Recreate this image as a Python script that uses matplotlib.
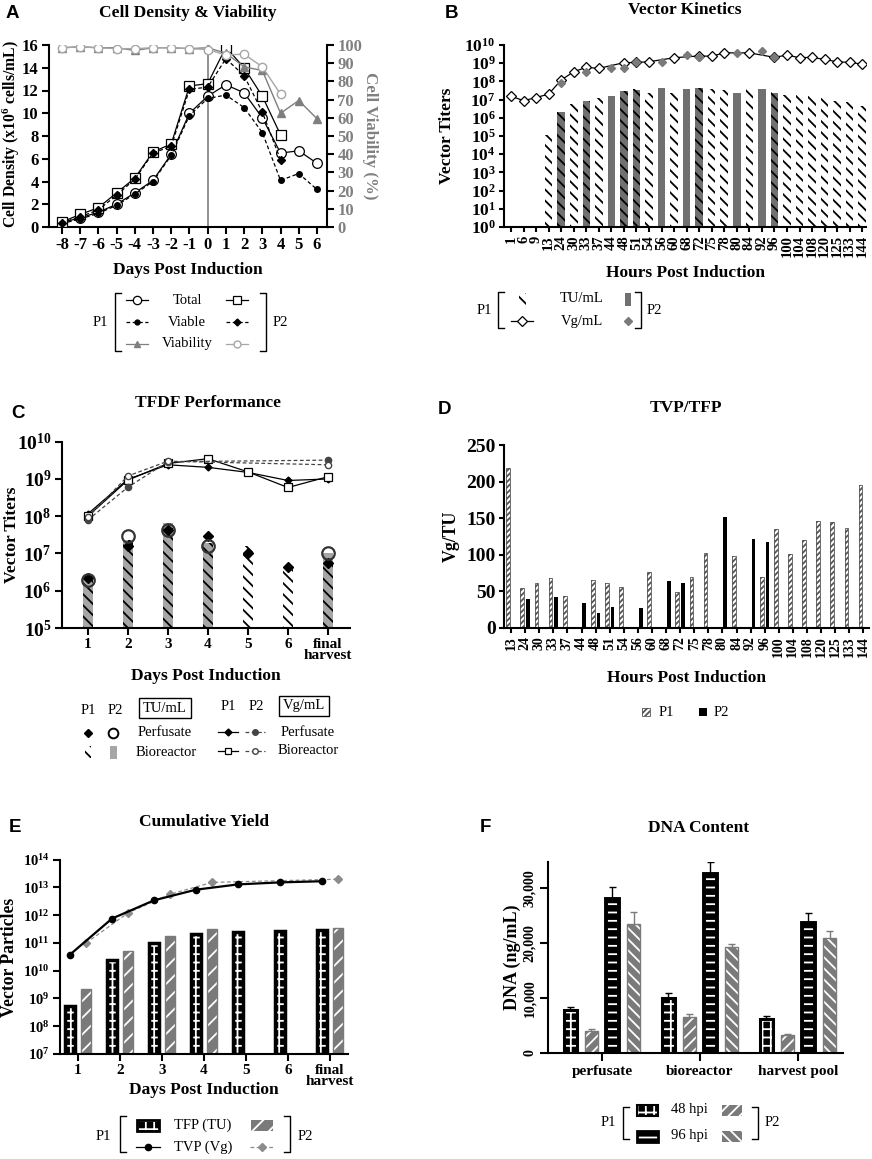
import numpy as np
import matplotlib
matplotlib.use("Agg")
import matplotlib.pyplot as plt
from matplotlib.patches import Rectangle
from matplotlib.ticker import FixedLocator, FuncFormatter, NullLocator

nan = np.nan

# ---- A: cell density & viability ----
days_a = list(range(-8, 7))
a_p1_total = [0.4, 0.8, 1.3, 2.0, 3.0, 4.1, 6.4, 10.0, 11.5, 12.5, 11.8, 9.6, 6.5, 6.7, 5.6]
a_p1_viable = [0.3, 0.7, 1.2, 1.9, 2.9, 4.0, 6.3, 9.8, 11.3, 11.6, 10.5, 8.3, 4.1, 4.7, 3.3]
a_p2_total = [0.45, 1.1, 1.7, 3.0, 4.3, 6.6, 7.3, 12.4, 12.6, 15.8, 14.0, 11.5, 8.1]
a_p2_viable = [0.35, 0.9, 1.5, 2.8, 4.2, 6.5, 7.1, 12.1, 12.3, 14.8, 13.3, 10.1, 5.9]
a_p1_viab = [98.5, 99, 98.5, 98.5, 97, 98.5, 98.5, 98, 98.5, 95.5, 88, 86, 62.5, 69.5, 59.5]
a_p2_viab = [98.5, 99, 98.5, 98, 98, 98.5, 98.5, 98, 97.5, 94.5, 95, 88, 73]

# ---- B: vector kinetics ----
hours_b = ["1", "6", "9", "13", "24", "30", "33", "37", "44", "48", "51", "54", "56", "60",
           "68", "72", "75", "78", "80", "84", "92", "96", "100", "104", "108", "120",
           "125", "133", "144"]
b_tu_p1 = [nan, nan, nan, 1.1e5, 2.1e6, 5.6e6, 8.7e6, 1.15e7, nan, 3.0e7, 3.6e7, 2.2e7, nan, 2.4e7,
           nan, 4.3e7, 3.6e7, 3.3e7, nan, 3.6e7, nan, 3.1e7, 1.9e7, 1.8e7, 1.6e7, 1.15e7,
           8.5e6, 7.5e6, 4.4e6]
b_tu_p2 = [nan, nan, nan, nan, 2.0e6, nan, 8.5e6, nan, 1.6e7, 2.9e7, 3.5e7, nan, 4.1e7, nan,
           4.0e7, 4.2e7, nan, nan, 2.4e7, nan, 3.8e7, 2.2e7, nan, nan, nan, nan, nan, nan, nan]
b_vg_p1 = [1.55e7, 8.7e6, 1.3e7, 2.0e7, 1.2e8, 3.4e8, 5.9e8, 5.2e8, nan, 1.07e9, 1.1e9, 1.2e9, nan,
           2.0e9, nan, 2.5e9, 2.4e9, 3.7e9, nan, 3.7e9, nan, 2.1e9, 2.8e9, 2.0e9, 2.1e9, 1.6e9,
           1.2e9, 1.1e9, 9.0e8]
b_vg_p2 = [nan, nan, nan, nan, 7.8e7, nan, 3.4e8, nan, 5.6e8, 5.2e8, 1.1e9, nan, 1.15e9, nan,
           2.8e9, 2.3e9, nan, nan, 3.8e9, nan, 4.9e9, 2.1e9, nan, nan, nan, nan, nan, nan, nan]

# ---- C: TFDF performance ----
days_c = ["1", "2", "3", "4", "5", "6", "final\nharvest"]
c_tu_bio_p1 = [2.0e6, 2.3e7, 4.8e7, 1.9e7, 1.6e7, 4.0e6, 6.7e6]
c_tu_bio_p2 = [2.7e6, 2.3e7, 6.5e7, 1.9e7, nan, nan, 1.0e7]
c_tu_perf_p1 = [2.2e6, 1.55e7, 4.3e7, 3.0e7, 1.0e7, 4.3e6, 5.7e6]
c_tu_perf_p2 = [2.0e6, 2.9e7, 4.3e7, 1.6e7, nan, nan, 1.0e7]
c_vg_perf_p1 = [1.15e8, 9.8e8, 2.4e9, 2.05e9, 1.5e9, 9.1e8, 1.0e9]
c_vg_bio_p1 = [1.0e8, 9.3e8, 2.6e9, 3.5e9, 1.55e9, 5.9e8, 1.15e9]
c_vg_perf_p2 = [7.9e7, 6.0e8, 2.9e9, nan, nan, nan, 3.2e9]
c_vg_bio_p2 = [9.3e7, 1.2e9, 3.0e9, nan, nan, nan, 2.4e9]

# ---- D: TVP/TFP ----
hours_d = hours_b[3:]
d_p1 = [219, 54.5, 62, 68, 43.6, nan, 66, 62, 56, nan, 77, nan, 49.5, 70, 102, nan, 99, nan,
        70, 135.5, 101, 120, 146, 144.5, 137, 196]
d_p2 = [nan, 39.5, nan, 42, nan, 34, 20.5, 29, nan, 28, nan, 64.5, 61.4, nan, nan, 151, nan,
        121, 118, nan, nan, nan, nan, nan, nan, nan]

# ---- E: cumulative yield ----
e_tfp_p1 = [5.5e8, 2.5e10, 1.0e11, 2.1e11, 2.5e11, 2.75e11, 2.8e11]
e_tfp_p2 = [2.2e9, 5.0e10, 1.8e11, 3.2e11, nan, nan, 3.4e11]
e_tvp_p1 = [3.8e10, 7.5e11, 3.4e12, 8.2e12, 1.27e13, 1.5e13, 1.65e13]
e_tvp_p2 = [9.8e10, 1.2e12, 5.6e12, 1.5e13, nan, nan, 1.95e13]

# ---- F: DNA content ----
sites_f = ["perfusate", "bioreactor", "harvest pool"]
f_p1_48 = [7880, 10000, 6180]
f_p2_48 = [3940, 6550, 3330]
f_p1_96 = [28060, 32670, 23760]
f_p2_96 = [23500, 19400, 20900]
f_err_p1_48 = [480, 900, 480]
f_err_p2_48 = [420, 550, 180]
f_err_p1_96 = [2120, 2100, 1700]
f_err_p2_96 = [2240, 480, 1340]

plt.rcParams.update({
    "font.family": ["Liberation Serif", "DejaVu Serif"],
    "font.weight": "bold",
    "axes.labelweight": "bold",
    "mathtext.fontset": "custom",
    "mathtext.rm": "Liberation Serif:bold",
    "mathtext.bf": "Liberation Serif:bold",
    "mathtext.default": "bf",
    "hatch.linewidth": 1.3,
})

W, H = 872, 1159
fig = plt.figure(figsize=(W / 100, H / 100), dpi=100)


def px_axes(l, t, r, b):
    return fig.add_axes([l / W, 1 - b / H, (r - l) / W, (b - t) / H])


def style(ax, size, length=5):
    for s in ["top", "right"]:
        ax.spines[s].set_visible(False)
    for s in ["left", "bottom"]:
        ax.spines[s].set_linewidth(1.5)
    ax.tick_params(direction="out", width=1.5, length=length, labelsize=size, pad=2.5)


def pow10(v, pos):
    return r"$\mathbf{10^{%d}}$" % round(np.log10(v))


def log_axis(ax, lo, hi, size):
    ax.set_yscale("log")
    ax.set_ylim(10.0 ** lo, 10.0 ** hi)
    ax.yaxis.set_major_locator(FixedLocator(10.0 ** np.arange(lo, hi + 1)))
    ax.yaxis.set_minor_locator(NullLocator())
    ax.yaxis.set_major_formatter(FuncFormatter(pow10))
    ax.tick_params(axis="y", labelsize=size)


def hbar(ax, x, h, w, fc, hc, hatch, ec, lw, bottom=0, z=2):
    x = np.asarray(x, float)
    h = np.asarray(h, float)
    m = ~np.isnan(h)
    ax.bar(x[m], h[m] - bottom, w, bottom=bottom, facecolor=fc, edgecolor=hc,
           hatch=hatch, linewidth=0, zorder=z)
    if ec is not None:
        ax.bar(x[m], h[m] - bottom, w, bottom=bottom, facecolor="none", edgecolor=ec,
               linewidth=lw, zorder=z + 0.1)


def pts(x, y):
    x = np.asarray(x, float)
    y = np.asarray(y, float)
    m = ~np.isnan(y)
    return x[m], y[m]


# ================= A =================
axA = px_axes(49, 45, 327, 227)
style(axA, 12)
axA.set_xlim(-8.71, 6.55)
axA.set_ylim(0, 16)
axA.set_xticks(days_a)
axA.set_xticklabels([str(d) for d in days_a])
axA.set_yticks(range(0, 17, 2))
axA.axvline(0, color="#7f7f7f", lw=1.2, zorder=1)
axA.plot(days_a, a_p1_total, "-o", color="black", mfc="white", ms=7, lw=0.9, mew=0.9, zorder=3)
axA.plot(days_a, a_p1_viable, "--o", color="black", ms=4, lw=0.9, dashes=(3, 2), zorder=3)
axA.plot(days_a[:13], a_p2_total, "-s", color="black", mfc="white", ms=7, lw=0.9, mew=0.9, zorder=3)
axA.plot(days_a[:13], a_p2_viable, "--D", color="black", ms=4, lw=0.9, dashes=(3, 2), zorder=3)
axA2 = axA.twinx()
axA2.set_ylim(0, 100)
axA2.set_yticks(range(0, 101, 10))
for s in ["top", "left", "bottom"]:
    axA2.spines[s].set_visible(False)
axA2.spines["right"].set_linewidth(1.5)
axA2.tick_params(direction="out", width=1.5, length=5, labelsize=12, pad=2.5,
                 labelcolor="#808080")
axA2.plot(days_a, a_p1_viab, "-^", color="#7f7f7f", ms=5.5, lw=1.0)
axA2.plot(days_a[:13], a_p2_viab, "-o", color="#a6a6a6", mfc="white", ms=6, lw=1.0)

# ================= B =================
axB = px_axes(504, 45, 866, 227)
style(axB, 10.5, length=3.5)
xb = np.arange(len(hours_b))
axB.set_xlim(-0.56, 28.3)
log_axis(axB, 0, 10, 12.5)
axB.set_xticks(xb)
axB.set_xticklabels(hours_b, rotation=90)
hbar(axB, xb, b_tu_p2, 0.6, "#707070", "#707070", None, None, 0, bottom=1)
hbar(axB, xb, b_tu_p1, 0.6, "none", "black", "\\\\\\", None, 0, bottom=1, z=2.5)
x1, y1 = pts(xb, b_vg_p1)
axB.plot(x1, y1, "-D", color="black", mfc="white", ms=5.5, lw=0.9, mew=0.9, zorder=4)
x2, y2 = pts(xb, b_vg_p2)
axB.plot(x2, y2, "D", color="#7a7a7a", ms=4.5, lw=0, zorder=5)

# ================= C =================
axC = px_axes(62, 441.7, 350, 628)
style(axC, 11)
xc = np.arange(len(days_c))
axC.set_xlim(-0.645, 6.55)
log_axis(axC, 5, 10, 14)
axC.set_xticks(xc)
axC.set_xticklabels(days_c, linespacing=0.8)
hbar(axC, xc, c_tu_bio_p2, 0.25, "#a6a6a6", "#a6a6a6", None, None, 0, bottom=1e5)
hbar(axC, xc, c_tu_bio_p1, 0.25, "none", "black", "\\\\\\", None, 0, bottom=1e5, z=2.5)
axC.plot(*pts(xc, c_tu_perf_p1), "D", color="black", ms=5, zorder=5)
axC.plot(*pts(xc, c_tu_perf_p2), "o", mfc="none", mec="#333333", ms=9, mew=1.6, zorder=5)
axC.plot(*pts(xc, c_vg_perf_p1), "-D", color="black", ms=3.5, lw=0.9, zorder=4)
axC.plot(*pts(xc, c_vg_bio_p1), "-s", color="black", mfc="white", ms=6, lw=0.9, mew=0.9, zorder=4)
axC.plot(*pts(xc, c_vg_perf_p2), "--o", color="#444444", ms=4.5, lw=0.9, dashes=(3, 2), zorder=4)
axC.plot(*pts(xc, c_vg_bio_p2), "--o", color="#444444", mfc="white", ms=4.5, lw=0.9,
         dashes=(3, 2), zorder=4)

# ================= D =================
axD = px_axes(504, 445, 869, 628)
style(axD, 14, length=3.5)
xd = np.arange(len(hours_d))
axD.set_xlim(-0.5, 25.4)
axD.set_ylim(0, 250)
axD.set_yticks(range(0, 251, 50))
axD.set_xticks(xd)
axD.set_xticklabels(hours_d, rotation=90, fontsize=10)
hbar(axD, xd - 0.2, d_p1, 0.27, "white", "#555555", "//////", "#555555", 0.6)
hbar(axD, xd + 0.2, d_p2, 0.27, "black", "black", None, None, 0)

# ================= E =================
axE = px_axes(60, 859.5, 348, 1054)
style(axE, 11)
xe = np.arange(len(days_c))
axE.set_xlim(-0.43, 6.43)
log_axis(axE, 7, 14, 10.5)
axE.set_xticks(xe)
axE.set_xticklabels(days_c, linespacing=0.8)
hbar(axE, xe - 0.19, e_tfp_p1, 0.23, "black", "white", "++", "black", 2.5, bottom=1e7)
hbar(axE, xe + 0.19, e_tfp_p2, 0.23, "#7a7a7a", "white", "//", "#7a7a7a", 1.0, bottom=1e7)
axE.plot(*pts(xe - 0.19, e_tvp_p1), "-o", color="black", ms=4.5, lw=1.6, zorder=5)
axE.plot(*pts(xe + 0.19, e_tvp_p2), "--D", color="#8c8c8c", ms=4, lw=0.9, dashes=(3, 2), zorder=4)

# ================= F =================
axF = px_axes(548, 862, 843, 1053)
style(axF, 11, length=6)
xf = np.arange(len(sites_f))
axF.set_xlim(-0.55, 2.46)
axF.set_ylim(0, 34800)
axF.set_xticks(xf)
axF.set_xticklabels(sites_f)
axF.set_yticks([0, 10000, 20000, 30000])
axF.set_yticklabels(["0", "10,000", "20,000", "30,000"], rotation=90, va="center", fontsize=10)
off = np.array([-1.5, -0.5, 0.5, 1.5]) * 0.215
groups = [
    (f_p1_48, f_err_p1_48, "black", "white", "++", "black", 2.2, "black"),
    (f_p2_48, f_err_p2_48, "#7a7a7a", "white", "///", "#7a7a7a", 1.0, "#7a7a7a"),
    (f_p1_96, f_err_p1_96, "black", "white", "--", "black", 2.8, "black"),
    (f_p2_96, f_err_p2_96, "#7a7a7a", "white", "\\\\\\", "#7a7a7a", 1.0, "#7a7a7a"),
]
for k, (vals, errs, fc, hc, ht, ec, lw, erc) in enumerate(groups):
    xx = xf + off[k]
    hbar(axF, xx, vals, 0.135, fc, hc, ht, ec, lw)
    top = np.array(vals) + np.array(errs)
    axF.vlines(xx, vals, top, color=erc, lw=1.0, zorder=1)
    axF.hlines(top, xx - 0.035, xx + 0.035, color=erc, lw=1.0, zorder=1)

# ================= overlay: titles, labels, legends =================
lay = fig.add_axes([0, 0, 1, 1], zorder=10)
lay.set_xlim(0, W)
lay.set_ylim(H, 0)
lay.axis("off")


def txt(x, y, s, size=11, weight="bold", **kw):
    kw.setdefault("ha", "center")
    kw.setdefault("va", "center")
    lay.text(x, y, s, fontsize=size, fontweight=weight, **kw)


def letter(x, y, s):
    lay.text(x, y, s, fontsize=13.5, fontweight="bold", family="Liberation Sans",
             ha="center", va="center")


def legtxt(x, y, s, **kw):
    txt(x, y, s, size=10.5, weight="normal", **kw)


def line_icon(xc, y, marker, ls="-", color="black", half=11, **kw):
    lay.plot([xc - half, xc + half], [y, y], ls=ls, color=color, lw=0.9,
             dashes=(3, 2) if ls == "--" else (None, None))
    lay.plot([xc], [y], marker=marker, color=color, lw=0, **kw)


def rect_icon(xc, y, w, h, fc, hc="none", hatch=None, ec=None, lw=0):
    lay.add_patch(Rectangle((xc - w / 2, y - h / 2), w, h, facecolor=fc, edgecolor=hc,
                            hatch=hatch, linewidth=0))
    if ec is not None:
        lay.add_patch(Rectangle((xc - w / 2, y - h / 2), w, h, facecolor="none",
                                edgecolor=ec, linewidth=lw))


def bracket(x, y0, y1, side):
    lay.plot([x + side * 6, x, x, x + side * 6], [y0, y0, y1, y1], color="black", lw=1.0)


# titles and panel letters
letter(12, 14, "A")
letter(451, 13, "B")
letter(18, 413, "C")
letter(444, 410, "D")
letter(15, 827, "E")
letter(485, 828, "F")
txt(188, 13, "Cell Density & Viability", 12.5)
txt(685, 10, "Vector Kinetics", 12.5)
txt(208, 403, "TFDF Performance", 12.5)
txt(686, 408, "TVP/TFP", 12.5)
txt(204, 822, "Cumulative Yield", 12.5)
txt(699, 828, "DNA Content", 12.5)

# axis labels
txt(188, 270, "Days Post Induction", 12.5)
txt(11, 134, r"Cell Density (x10$^{6}$ cells/mL)", 11.3, rotation=90)
txt(370, 136, "Cell Viability (%)", 12.2, rotation=270, color="#808080")
txt(685, 273, "Hours Post Induction", 12.5)
txt(447, 136, "Vector Titers", 12.5, rotation=90)
txt(206, 676, "Days Post Induction", 12.5)
txt(12, 535, "Vector Titers", 12.5, rotation=90)
txt(686, 678, "Hours Post Induction", 12.5)
txt(451, 536, "Vg/TU", 12.8, rotation=90)
txt(204, 1090, "Days Post Induction", 12.5)
txt(10, 957, "Vector Particles", 12.7, rotation=90)
txt(512, 957, "DNA (ng/mL)", 13, rotation=90)

# legend A
ya = [300, 322, 344]
legtxt(100, ya[1], "P1")
bracket(115, 293, 351, 1)
line_icon(137, ya[0], "o", mfc="white", ms=6, mew=0.9)
line_icon(137, ya[1], "o", ls="--", ms=3.5)
line_icon(137, ya[2], "^", color="#7f7f7f", ms=5)
legtxt(187, ya[0], "Total")
legtxt(187, ya[1], "Viable")
legtxt(187, ya[2], "Viability")
line_icon(237, ya[0], "s", mfc="white", ms=6, mew=0.9)
line_icon(237, ya[1], "D", ls="--", ms=3.5)
line_icon(237, ya[2], "o", color="#a6a6a6", mfc="white", ms=5)
bracket(266, 293, 351, -1)
legtxt(280, ya[1], "P2")

# legend B
yb = [299, 321]
legtxt(484, 310, "P1")
bracket(498, 292, 328, 1)
rect_icon(522, yb[0], 7, 13, "none", "black", "\\\\\\")
line_icon(522, yb[1], "D", mfc="white", ms=5, mew=0.9)
legtxt(582, yb[0], "TU/mL")
legtxt(582, yb[1], "Vg/mL")
rect_icon(628, yb[0], 6, 13, "#707070")
lay.plot([628], [yb[1]], "D", color="#7a7a7a", ms=4.5)
bracket(641, 292, 328, -1)
legtxt(654, 310, "P2")

# legend C
legtxt(88, 710, "P1")
legtxt(115, 710, "P2")
box = dict(boxstyle="square,pad=0.25", fc="none", ec="black", lw=1.0)
legtxt(165, 708, "TU/mL", bbox=box)
lay.plot([88], [733], "D", color="black", ms=4.5)
lay.plot([113], [733], "o", mfc="none", mec="black", ms=7, mew=1.4)
rect_icon(88, 752, 6, 12, "none", "black", "\\\\\\")
rect_icon(113, 752, 7, 13, "#a6a6a6")
legtxt(165, 733, "Perfusate")
legtxt(166, 752, "Bioreactor")
legtxt(228, 707, "P1")
legtxt(256, 707, "P2")
legtxt(304, 706, "Vg/mL", bbox=box)
line_icon(228, 732, "D", ms=3.5, half=10)
line_icon(255, 732, "o", ls="--", color="#444444", ms=4, half=10)
line_icon(228, 751, "s", mfc="white", ms=5, mew=0.9, half=10)
line_icon(255, 751, "o", ls="--", color="#444444", mfc="white", ms=4, half=10)
legtxt(308, 732, "Perfusate")
legtxt(308, 751, "Bioreactor")

# legend D
rect_icon(646, 712, 8, 8, "white", "#555555", "//////", "#555555", 0.6)
legtxt(666, 712, "P1")
rect_icon(703, 712, 8, 8, "black")
legtxt(721, 712, "P2")

# legend E
legtxt(103, 1137, "P1")
bracket(120, 1116, 1152, 1)
rect_icon(148, 1125, 22, 11, "black", "white", "++", "black", 2.0)
line_icon(148, 1147, "o", ms=4.5, half=12)
legtxt(203, 1125, "TFP (TU)")
legtxt(203, 1147, "TVP (Vg)")
rect_icon(262, 1125, 22, 11, "#7a7a7a", "white", "//")
line_icon(262, 1147, "D", ls="--", color="#8c8c8c", ms=4, half=12)
bracket(290, 1116, 1152, -1)
legtxt(305, 1137, "P2")

# legend F
legtxt(608, 1123, "P1")
bracket(623, 1107, 1139, 1)
rect_icon(647, 1110, 21, 11, "black", "white", "++", "black", 1.5)
rect_icon(647, 1136, 21, 11, "black", "white", "--", "black", 2.0)
legtxt(689, 1110, "48 hpi")
legtxt(689, 1136, "96 hpi")
rect_icon(732, 1110, 20, 11, "#7a7a7a", "white", "///")
rect_icon(732, 1136, 20, 11, "#7a7a7a", "white", "\\\\\\")
bracket(758, 1107, 1139, -1)
legtxt(772, 1123, "P2")

fig.savefig("out.png", dpi=100)
